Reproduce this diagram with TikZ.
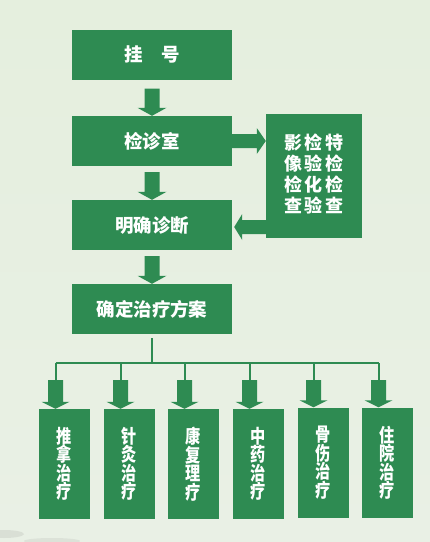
\documentclass[tikz,border=0pt]{standalone}
\usepackage{fontspec}
\setmainfont{Noto Sans CJK SC}
\newfontfamily\narrowcjk{Noto Sans CJK SC}[FakeStretch=0.8]
\usetikzlibrary{calc}
\definecolor{grn}{RGB}{46,139,82}
\definecolor{bgtop}{RGB}{229,239,222}
\definecolor{bgbot}{RGB}{233,240,229}
\newcommand\blockdown[2]{%
  \fill[grn] let \p1=(#1), \p2=(#2) in
    (\x2-7.5pt,\y1) -- (\x2+7.5pt,\y1) -- (\x2+7.5pt,\y2+8pt) -- (\x2+14.5pt,\y2+8pt)
    -- (\x2,\y2) -- (\x2-14.5pt,\y2+8pt) -- (\x2-7.5pt,\y2+8pt) -- cycle;}
\begin{document}
\begin{tikzpicture}[x=1pt,y=-1pt,
  box/.style={fill=grn,text=white,inner sep=0pt,minimum width=160pt,minimum height=50pt,
    font=\bfseries\fontsize{18.5}{18.5}\selectfont},
  sidebox/.style={fill=grn,text=white,inner sep=0pt,minimum width=96pt,minimum height=124pt,
    font=\bfseries\fontsize{18}{18}\selectfont},
  kid/.style={fill=grn,text=white,inner sep=0pt,minimum width=51pt,minimum height=110pt,
    align=center,font=\narrowcjk\bfseries\fontsize{19}{18.5}\selectfont},
  bus/.style={draw=grn,line width=2pt}]
\useasboundingbox (0,0) rectangle (430,542);
\shade[top color=bgtop,bottom color=bgbot] (0,0) rectangle (430,542);
\fill[gray,opacity=0.15] (4,534) ellipse [x radius=20pt,y radius=4pt];
\fill[gray,opacity=0.12] (52,541) ellipse [x radius=28pt,y radius=3pt];

\node[box] (gh) at (152,54.5) {挂　号};
\node[box] (jz) at (152,141) {检诊室};
\node[box] (mq) at (152,225) {明确诊断};
\node[box] (fa) at (152,309) {确定治疗方案};
\node[sidebox] (side) at (314,176)
  {\begin{tabular}{@{}c@{\hspace{3pt}}c@{\hspace{3pt}}c@{}}
   影&检&特\\ 像&验&检\\ 检&化&检\\ 查&验&查\end{tabular}};

\node[kid] (k1) at (64.5,464) {推\\拿\\治\\疗};
\node[kid] (k2) at (129,464) {针\\灸\\治\\疗};
\node[kid] (k3) at (193.5,464) {康\\复\\理\\疗};
\node[kid] (k4) at (258,464) {中\\药\\治\\疗};
\node[kid] (k5) at (323,462.5) {骨\\伤\\治\\疗};
\node[kid] (k6) at (387,462.5) {住\\院\\治\\疗};

% main flow arrows
\coordinate (a1) at ($(gh.south)+(0,9)$);
\coordinate (a2) at ($(jz.south)+(0,6)$);
\coordinate (a3) at ($(mq.south)+(0,6)$);
\blockdown{a1}{jz.north}
\blockdown{a2}{mq.north}
\blockdown{a3}{fa.north}

% to side box
\fill[grn] let \p1=(jz.east), \p2=(side.west) in
  (\x1,\y1-7pt) -- (\x2-9pt,\y1-7pt) -- (\x2-9pt,\y1-13pt) -- (\x2,\y1)
  -- (\x2-9pt,\y1+13pt) -- (\x2-9pt,\y1+7pt) -- (\x1,\y1+7pt) -- cycle;
% back to diagnosis
\fill[grn] let \p1=(side.west), \p2=(mq.east) in
  (\x1,\y2-9pt) -- (\x2+10pt,\y2-9pt) -- (\x2+10pt,\y2-15pt) -- (\x2+2pt,\y2-2pt)
  -- (\x2+10pt,\y2+11pt) -- (\x2+10pt,\y2+5pt) -- (\x1,\y2+5pt) -- cycle;

% bus
\coordinate (bt) at ($(fa.south)+(0,4)$);
\coordinate (bj) at (152,363);
\draw[bus] (bt) -- (bj);
\draw[bus] (55.5,363) -- (378.5,363);
\foreach \k/\x in {k1/55.5,k2/120.5,k3/184.5,k4/249.5,k5/313.5,k6/378.5}{
  \coordinate (t\k) at (\x,363);
  \coordinate (s\k) at (\x,380);
  \draw[bus] (t\k) -- (s\k);
  \fill[grn] let \p1=(s\k), \p2=(\k.north) in
    (\x1-7.5pt,\y1) -- (\x1+7.5pt,\y1) -- (\x1+7.5pt,\y2+7pt) -- (\x1+14pt,\y2+7pt)
    -- (\x1,\y2) -- (\x1-14pt,\y2+7pt) -- (\x1-7.5pt,\y2+7pt) -- cycle;
}
\end{tikzpicture}
\end{document}
